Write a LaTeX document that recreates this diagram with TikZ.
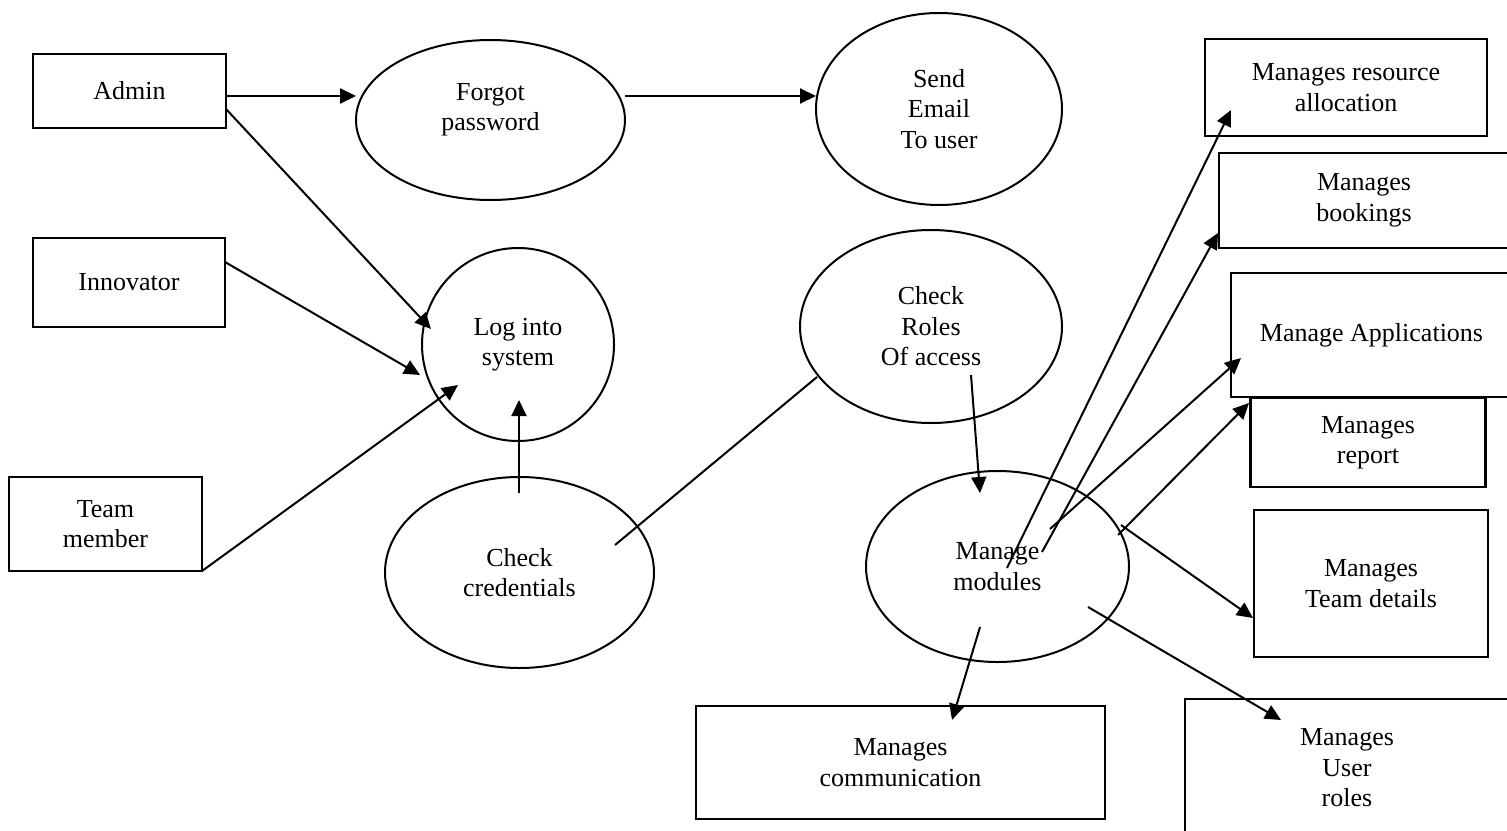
\documentclass[tikz,border=0pt]{standalone}
\usepackage{fontspec}
\setmainfont{Liberation Serif}
\usetikzlibrary{shapes.geometric,arrows.meta}
\begin{document}
\begin{tikzpicture}[x=1pt,y=-1pt,
  every node/.style={font=\fontsize{26}{30.5}\selectfont, align=center, inner sep=0pt},
  box/.style={draw, line width=2.6pt, rectangle},
  proc/.style={draw, line width=2pt, ellipse},
  flow/.style={line width=2pt, -{Triangle[length=16pt,width=15pt]}},
  link/.style={line width=2pt}]
\useasboundingbox (0,0) rectangle (1507,830);
\clip (0,0) rectangle (1507,830);

% actors
\node[box, minimum width=193pt, minimum height=74pt] (admin) at (129.5,91) {Admin};
\node[box, minimum width=192pt, minimum height=89pt] (innov) at (129,282.5) {Innovator};
\node[box, minimum width=193pt, minimum height=94pt] (team) at (105.5,524) {Team\\member};

% processes
\node[proc, minimum width=269pt, minimum height=160pt,
      label={[yshift=10pt]center:Forgot\\password}] (forgot) at (490.5,120) {};
\node[proc, minimum width=246pt, minimum height=192pt] (send) at (939,109) {Send\\Email\\To user};
\node[proc, minimum width=192pt, minimum height=193pt] (login) at (518,344.5) {Log into\\system};
\node[proc, minimum width=269pt, minimum height=191pt] (cred) at (519.5,572.5) {Check\\credentials};
\node[proc, minimum width=262pt, minimum height=193pt] (roles) at (931,326.5) {Check\\Roles\\Of access};
\node[proc, minimum width=263pt, minimum height=191pt] (modules) at (997.5,566.5) {Manage\\modules};

% module boxes
\node[box, minimum width=282pt, minimum height=97pt] (res) at (1346,87.5) {Manages resource\\allocation};
\node[box, minimum width=290pt, minimum height=95pt] (book) at (1364,200.5) {Manages\\bookings};
\node[box, minimum width=281pt, minimum height=124pt] (apps) at (1371.5,335) {Manage Applications};
\node[box, minimum width=235pt, minimum height=89pt] (report) at (1368,442.5) {Manages\\report};
\node[box, minimum width=234pt, minimum height=147pt] (tdet) at (1371,583.5) {Manages\\Team details};
\node[box, minimum width=409pt, minimum height=113pt] (comm) at (900.5,762.5) {Manages\\communication};
\node[box, minimum width=324pt, minimum height=138pt] (uroles) at (1347,768) {Manages\\User\\roles};

% connector end points
\coordinate (adminA) at (226,96);
\coordinate (forgotW) at (356,96);
\coordinate (forgotE) at (625,96);
\coordinate (sendW) at (816,96);
\coordinate (adminB) at (226,109);
\coordinate (loginA) at (431,329);
\coordinate (innovE) at (225,262);
\coordinate (loginB) at (420,375);
\coordinate (teamE) at (202,571);
\coordinate (loginC) at (458,385);
\coordinate (credN) at (519,493);
\coordinate (loginS) at (519,400);
\coordinate (credE) at (615,545);
\coordinate (rolesW) at (817,377);
\coordinate (rolesS) at (971,375);
\coordinate (modN) at (980,493);
\coordinate (modA) at (1007,568);
\coordinate (resT) at (1231,110);
\coordinate (modB) at (1042,552);
\coordinate (bookT) at (1218,233);
\coordinate (modC) at (1050,529);
\coordinate (appsT) at (1241,358);
\coordinate (modD) at (1118,535);
\coordinate (reportT) at (1249,403);
\coordinate (modE) at (1121,525);
\coordinate (tdetT) at (1253,618);
\coordinate (modF) at (1088,607);
\coordinate (urolesT) at (1281,720);
\coordinate (modG) at (980,627);
\coordinate (commT) at (952,720);

% connectors
\draw[flow] (adminA) -- (forgotW);
\draw[flow] (forgotE) -- (sendW);
\draw[flow] (adminB) -- (loginA);
\draw[flow] (innovE) -- (loginB);
\draw[flow] (teamE) -- (loginC);
\draw[flow] (credN) -- (loginS);
\draw[link] (credE) -- (rolesW);
\draw[flow] (rolesS) -- (modN);
\draw[flow] (modA) -- (resT);
\draw[flow] (modB) -- (bookT);
\draw[flow] (modC) -- (appsT);
\draw[flow] (modD) -- (reportT);
\draw[flow] (modE) -- (tdetT);
\draw[flow] (modF) -- (urolesT);
\draw[flow] (modG) -- (commT);
\end{tikzpicture}
\end{document}
